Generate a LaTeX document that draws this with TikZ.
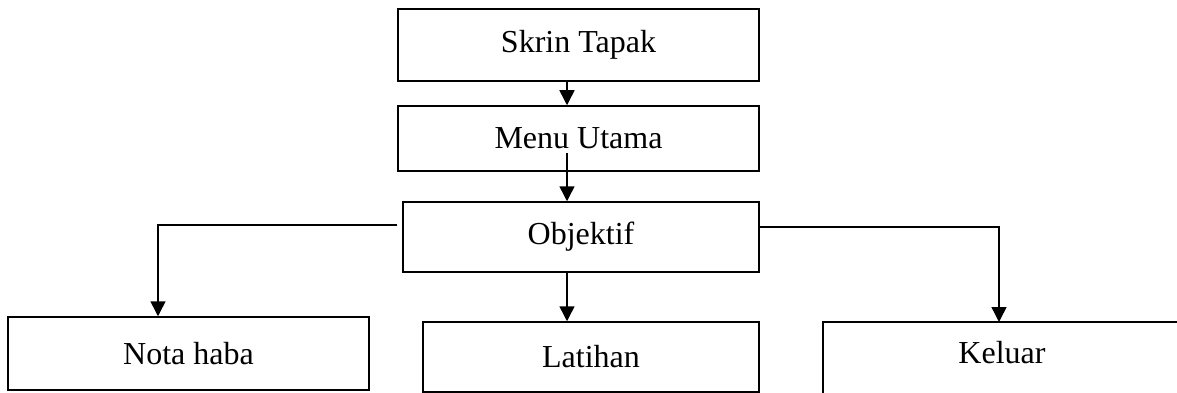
\documentclass[tikz,border=0pt]{standalone}
\usepackage{fontspec}
\setmainfont{Liberation Serif}
\usetikzlibrary{arrows.meta}
\begin{document}
\begin{tikzpicture}[x=1pt,y=-1pt,
  box/.style={draw,line width=1.5pt,rectangle,inner sep=0pt,font=\fontsize{32}{38}\selectfont},
  arr/.style={line width=1.5pt,-{Triangle[width=15pt,length=15pt]}},
  lbl/.style={inner sep=0pt,font=\fontsize{32}{38}\selectfont}]
\useasboundingbox (0,0) rectangle (1177,393);
\clip (0,0) rectangle (1177,393);
\coordinate (mid) at (567,0);
\node[box,minimum width=361pt,minimum height=72pt] (skrin) at (578.5,45) {Skrin Tapak};
\node[box,minimum width=361pt,minimum height=65pt] (menu) at (578.5,138.5) {Menu Utama};
\node[box,minimum width=356pt,minimum height=70pt] (obj) at (581,237) {Objektif};
\node[box,minimum width=361pt,minimum height=73pt] (nota) at (188.5,353.5) {Nota haba};
\node[box,minimum width=336pt,minimum height=70pt] (lat) at (591,357) {Latihan};
\node[box,minimum width=427pt,minimum height=98pt] (kel) at (1036.5,371) {};
\node[lbl] (keltext) at (1002,353) {Keluar};
\coordinate (kin) at (999,322);
\coordinate (menustart) at (567,153);
\draw[arr] (skrin.south -| mid) -- (menu.north -| mid);
\draw[arr] (menustart) -- (obj.north -| mid);
\draw[arr] (obj.south -| mid) -- (lat.north -| mid);
\draw[arr] ([xshift=-5pt,yshift=12pt]obj.west) -| (nota.north -| 158,0);
\draw[arr] ([yshift=10pt]obj.east) -| (kin);
\end{tikzpicture}
\end{document}
